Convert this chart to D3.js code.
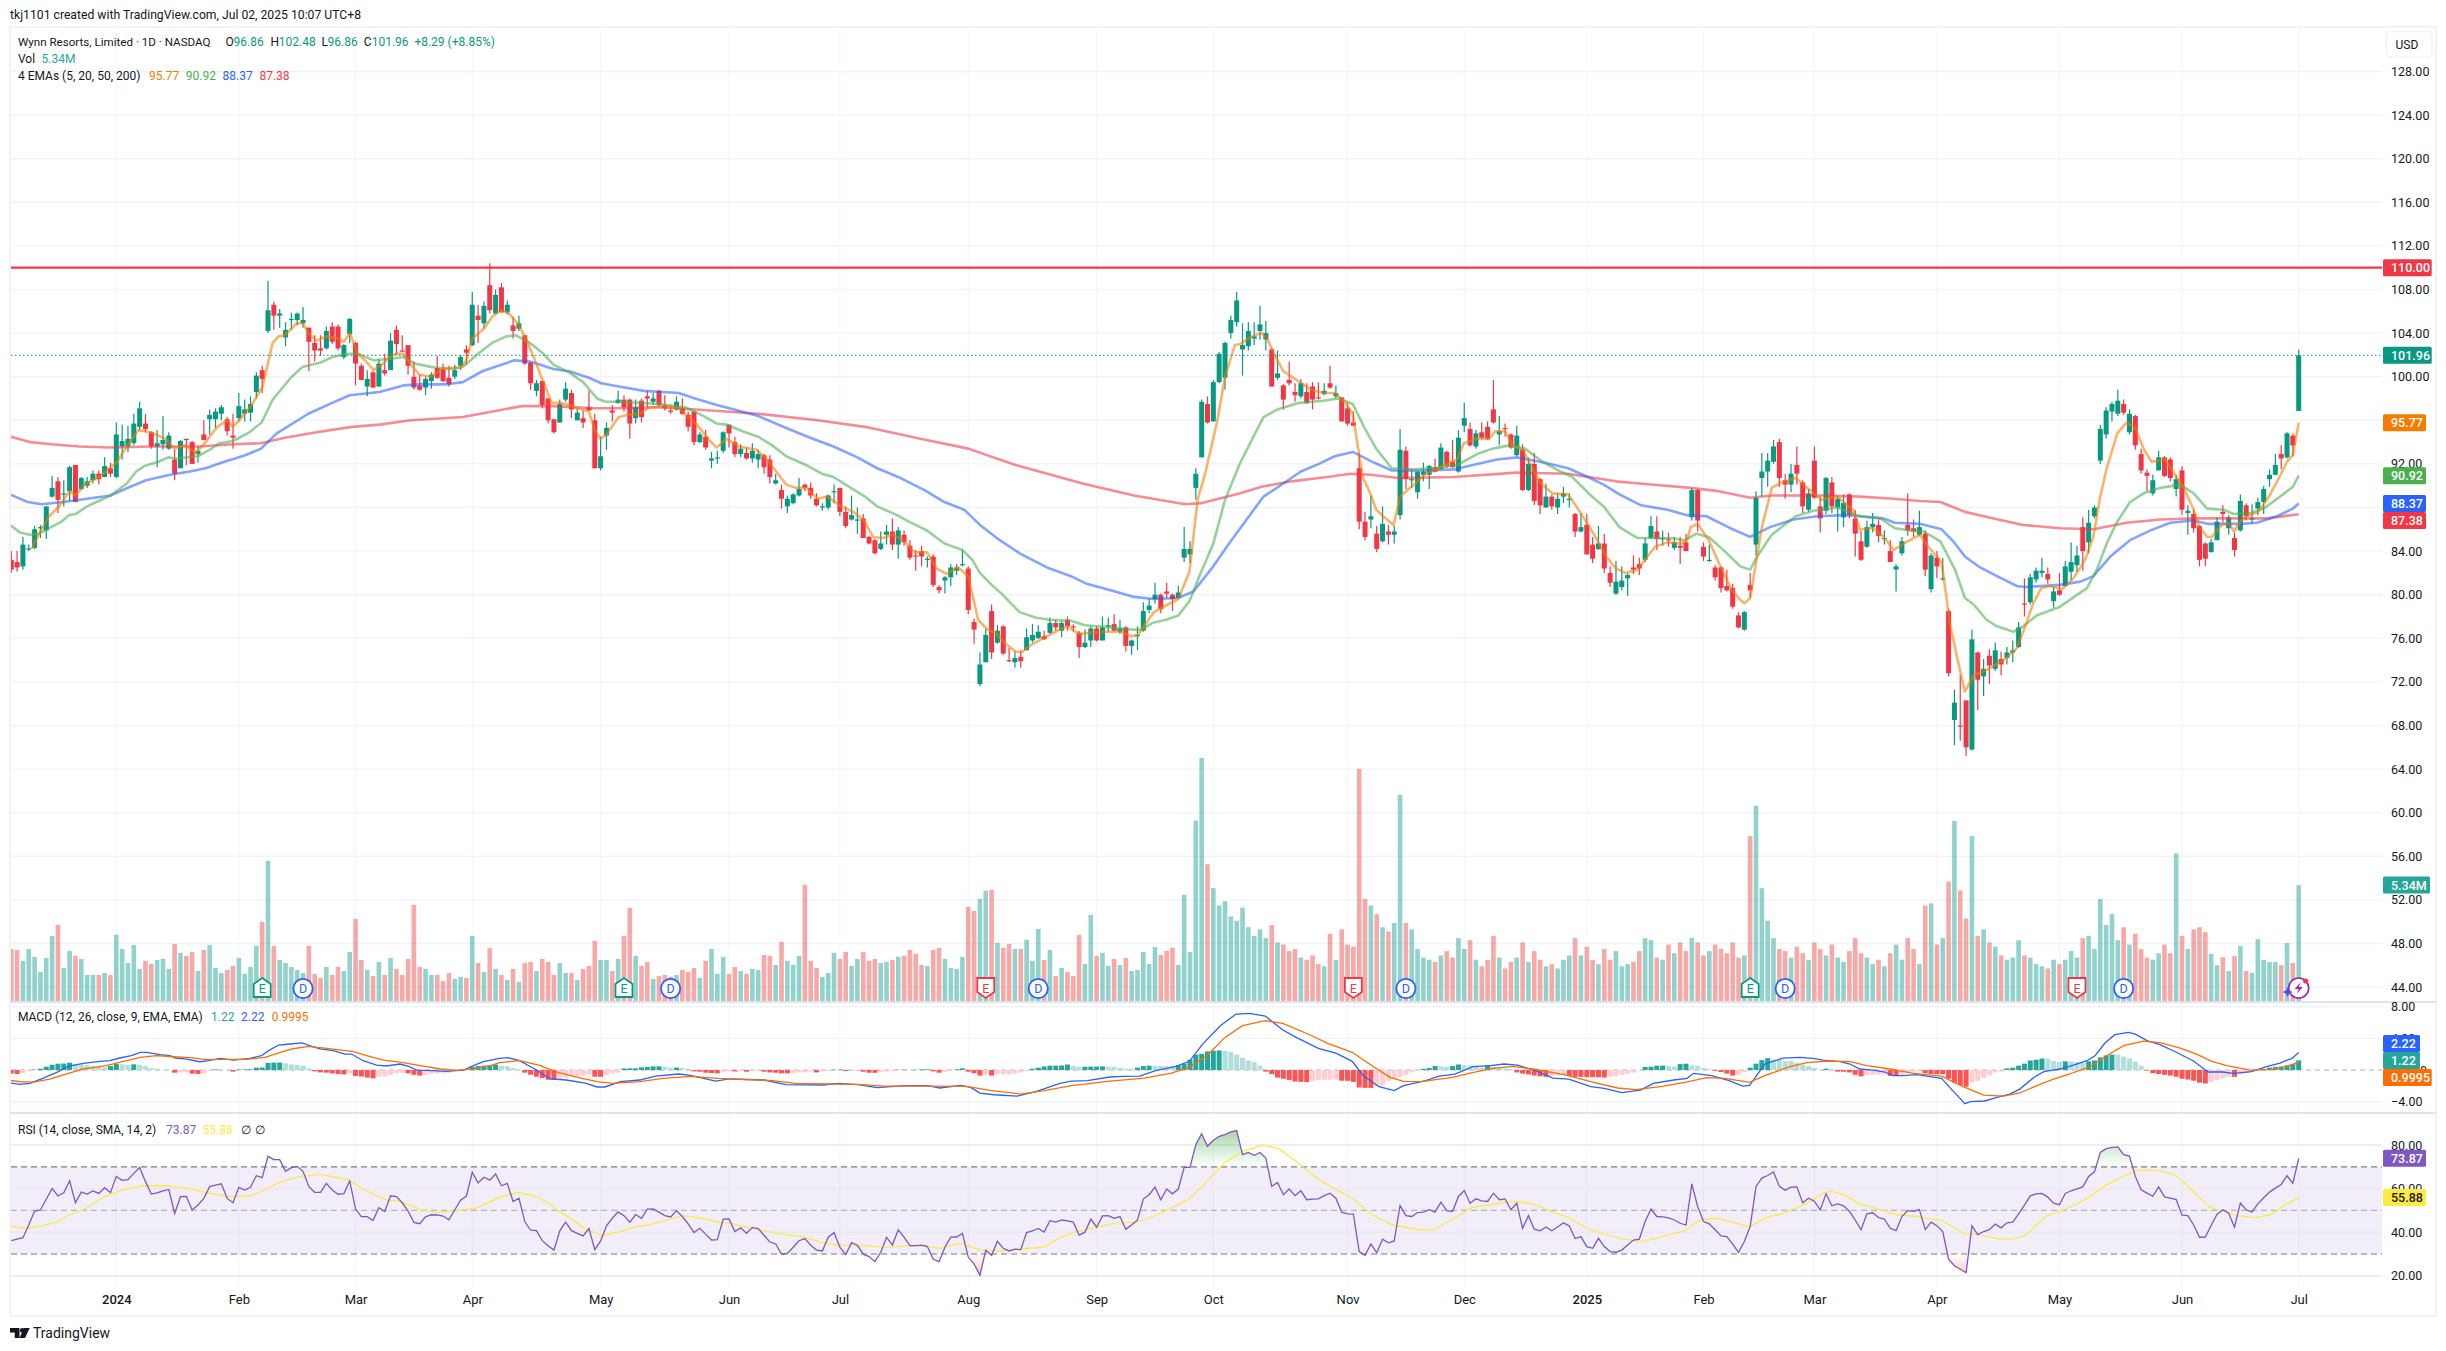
<!DOCTYPE html>
<html>
<head>
<meta charset="utf-8">
<script src="https://cdn.jsdelivr.net/npm/d3@7"></script>
<style>
  html, body { margin: 0; padding: 0; background: #fff; }
  svg { display: block; }
  text { font-family: Roboto, "Noto Sans", sans-serif; fill: #131722; }
  .tick text { font-size: 12.5px; font-family: Roboto, "Noto Sans", sans-serif; }
</style>
</head>
<body>
<div id="chart"></div>
<script>
// bar 0 is Jan 2 2024, the chart opens 18 sessions earlier
const firstBar = -18;

const opens = [
  83.2,83,82.6,84.2,84.3,86.1,85.9,89,90.4,89.2,
  89.5,91.9,89.7,90,90.5,91.1,90.8,91.6,90.8,93.6,
  93.6,93.9,95.4,95.7,94.9,93.6,93.8,93.4,92.4,91.6,
  94.3,94,92.9,94.7,96.1,96.1,96.6,96.1,94.6,96.2,
  96.6,96.7,98.6,100.6,104.2,106.6,105.6,103.6,105.2,105.2,
  104.9,104.5,103.1,102.6,102.6,104.6,104.6,101.8,103.9,103.1,
  101,99.1,100.4,99.1,100.6,100.6,104.3,102.4,102.9,100,
  99.2,99,99.6,100.8,100.7,99.9,100,101,102.5,102.9,
  105.6,104.9,108.4,105.8,108.2,105.9,104.7,104.4,103.8,101.3,
  98.7,99.6,98,96.1,95.8,97.9,98.5,96,96.2,97.2,
  96,91.6,94.6,96.9,97.6,97.9,97.9,96.2,97.8,98.2,
  97.7,98.7,97.4,96.9,97,97.1,96.5,96.8,94,94.5,
  92.3,92.5,93.2,95.6,94,92.9,93,92.5,92.4,92.8,
  92.4,90.2,89.6,88.1,88.4,89.1,90.1,89.8,88.8,88,
  88,89.4,89.8,87.6,86.9,86.8,87,85.3,85,84.2,
  85.5,85.8,84.6,85.5,84.5,83.6,84,83.2,83.5,80.7,
  81.3,81.6,82.2,82.7,82.4,77.5,71.8,73.8,78.5,75.6,
  77.1,74,73.8,74.3,74.9,75.8,76,76.2,76.5,77.4,
  76.7,77.7,77.1,76.5,75.2,75.8,76.9,75.8,77.1,77.3,
  76.6,77,75.3,76.2,76.7,78.6,79.6,80,80.3,80,
  79.7,83.4,83.7,89.8,92.6,97.5,95.9,99.5,99.9,104,
  105,102.5,102.8,103.5,104.2,103.4,102.5,99.9,99.2,99.7,
  98.6,98.2,98.6,99.1,98.1,98.4,99.4,98.2,98.1,97.1,
  95.8,91.6,86.7,86.9,85.6,84.9,85.8,85.5,87.3,93.2,
  90.5,89.4,91,91,91.7,91.5,93.1,92.2,91.3,95.5,
  95.2,93.6,94.9,95.4,97,94.7,95.3,94.7,92.8,93.3,
  89.6,92,90.6,88,89,88,89,88.7,87.4,85.8,
  86.4,84.6,84.2,84.7,82,80.1,80.7,81.5,82.5,82.8,
  83.2,85.2,85.8,85.1,85.1,84.3,84.5,84.8,87.1,89.6,
  84.4,83.1,82.5,82.5,80.8,80.6,78.1,76.8,80.9,84.6,
  90.7,91.3,92.2,94,90.5,90.1,91.9,90.3,87.8,92.3,
  88.1,87.7,90.3,88,87.1,89.2,87,84.9,84.4,86.2,
  86.4,85.1,84,82.3,83.8,86.4,86.1,85.5,85.6,80.5,
  83.4,81.4,78.5,68.5,68,70.3,65.8,74.7,72.5,74.4,
  73.2,74.1,74.2,74.7,75.2,79.2,79.3,81.4,82,81.9,
  79.4,80.4,80.8,82.1,82.7,86.2,84.8,87.2,92.3,94.7,
  96.8,96.6,97.5,94.9,96.4,92.9,91.2,89.3,91.4,92.6,
  92.4,89.7,91.4,87.5,87.4,86.3,84.7,83.9,85,87.6,
  86.1,85.2,85.9,88.2,86.9,87.9,88.5,90.6,91,92.9,
  92.6,94.6,96.86
];
const highs = [
  84,84,85.3,84.6,86.3,86.4,88.1,90.9,90.8,90.5,
  91.8,91.9,90.8,90.8,91.4,91.4,92.6,92.1,95.8,95.6,
  95.5,96.6,97.7,96.6,95,95.1,96.4,94.9,93.3,94.2,
  94.3,94.1,93.6,96,97,97.1,97.4,96.3,96.6,98.5,
  97.9,98.2,100.4,101,108.8,106.9,106.2,105,105.9,105.9,
  106.4,104.5,103.8,103.8,104.6,105,104.8,103,105.4,103.2,
  101.2,100.6,100.5,101.6,102.1,104,104.7,103.8,102.9,101.4,
  100.2,100,100.4,101.9,101.2,101,101.1,102,102.9,107.8,
  106.6,106.9,110.4,108,108.6,107,105.5,105.6,103.8,101.3,
  99.7,99.6,98,96.1,97.9,99.5,98.8,97.1,96.9,98.7,
  96.6,94.5,95.8,97.4,98.7,98.3,98,97.9,98,98.7,
  98.5,98.8,98.3,97.4,98.2,98,96.8,96.8,94.9,95.1,
  93.1,93.2,95,95.6,94.5,93.8,93.5,93.9,93.3,92.9,
  92.8,91.1,90.1,89.1,89.3,90.7,90.2,90.3,89.3,88.4,
  89.2,90.1,89.8,88.1,89.1,88,87.4,85.4,85.1,85.8,
  86.4,87,86.2,85.9,85,84.1,84.5,83.5,83.7,80.9,
  81.7,82.8,82.8,84.1,82.6,77.8,74.7,76.9,79.1,77.2,
  77.2,75.1,74.8,74.9,76.9,77.3,77.2,76.7,77.9,77.7,
  77.6,78,77.3,76.7,76.8,77.1,77.1,78,77.9,78.2,
  77.7,77.1,75.9,77.1,79.3,79.6,81.1,80.1,81.1,80.1,
  80.8,86.2,84.9,91.6,97.9,98.2,99.7,102.3,103.2,105.6,
  107.8,104.9,105,105,106.5,105.1,102.6,102.4,99.3,101.4,
  99.4,99.8,99.4,99.5,99.5,99.4,101,99.2,98.1,97.6,
  96.8,93,87.6,89.1,86.3,88.1,86.4,86.3,95.2,93.6,
  91.5,91.3,92.1,91.9,92.5,93.9,93.2,94.2,95.1,97.6,
  95.8,95.1,95.8,95.9,99.7,96.4,95.7,94.8,95.5,93.8,
  92.6,93,90.7,90.2,89.2,89.3,89.9,89.3,87.5,87.5,
  87.4,85.3,86.3,85.6,82.6,83.1,82.6,82,83.6,83.4,
  85.2,87.2,87.2,85.9,85.7,85.3,85.3,85.6,89.8,89.7,
  84.8,84.6,82.7,82.6,82.3,81,78.4,78.5,82,89.5,
  93,93,94.2,94.3,91.1,92,93.6,90.5,89.7,93.6,
  89,90.8,90.8,89,89.2,89.3,87.8,85.9,86.8,87.5,
  86.9,85.9,85,82.8,85.3,89.3,86.9,87.7,85.9,83.8,
  84,83.4,78.7,71.3,72.6,70.3,76.8,74.8,74.1,75,
  75.6,74.8,75.2,75.8,77.5,81.5,81.9,82.5,83.4,82.5,
  80.7,82,83.1,84.8,84.5,87.1,87.8,88.2,95.6,97.2,
  97.7,98.8,97.9,97,96.5,93.4,91.5,91,93.2,92.7,
  92.6,91,91.8,88.2,87.8,86.4,84.8,85.1,87.1,88.2,
  87.3,85.7,89.2,88.4,88.3,88.9,90,91.5,92.9,93.7,
  94.9,94.8,102.48
];
const lows = [
  82,82.1,82.3,84,84.2,85.2,85.1,88.9,87.5,88.1,
  88.6,88.5,89.6,89.8,90.2,90.1,90.8,90.8,90.7,92.4,
  93.1,93.7,95.1,94.9,93.4,91.7,93.3,93.3,90.5,91.6,
  91.9,92,92.1,94.2,94.7,95.3,96,94.6,93.4,95.9,
  95.9,95.9,98,98.5,104,104.3,104.5,102.8,104.3,104.7,
  104.5,100.5,101.4,101.9,102.5,103,102.4,101.6,103.1,99.2,
  99.7,98.2,99,99.1,100.1,100.6,102,102.3,100.2,98.8,
  98.7,98.3,98.9,99.8,99.5,99.1,99.8,100.6,101.1,102.8,
  103.1,104.4,105.8,105.7,105.9,105.7,103.5,104.2,101.1,98.8,
  98.2,97.1,95.7,94.8,95.8,97.7,96.2,96,95.3,96.9,
  91.6,91.4,93.3,95.9,97.5,96.8,94.3,95.7,95.8,97.2,
  97.4,97.3,96.9,96.6,96.9,96.5,95,93.7,93.9,93.3,
  91.6,92,93,93.5,92.6,92.6,92.4,92.1,91.6,91.1,
  90.2,90.1,87.9,87.5,88.3,89,89.5,88.8,88.1,87.7,
  87.8,88.4,87.2,86.1,86.8,85.6,85.2,84.6,83.7,84.1,
  84.6,84.1,83.3,84.5,83.2,82.2,82.6,82.5,80.7,80.1,
  80.1,80.8,81.8,82.6,78.2,75.5,71.6,73.8,74.1,75.5,
  74.5,73.8,73.3,73.3,74.9,75.6,76,75.9,76.4,76.7,
  76.1,76.7,76.6,74.2,75.1,75.2,75.7,75.8,76.6,76.6,
  76.4,74.8,74.5,74.9,76.6,78.3,79.2,78.3,79.7,78.5,
  79.6,83,82.9,88.7,92.6,95.7,95.9,99.4,98.8,103.5,
  104.6,100.1,102.4,102.9,103.4,102.4,99.1,99.7,97,99.2,
  97.7,98,97.5,97,97.9,98.3,98.9,98,95.9,95.5,
  95.5,86,85,86.1,83.9,84.8,84.6,84.7,86.9,89.7,
  89.8,88.8,90.4,89.7,91.2,91.5,91.6,91.6,91.2,94.9,
  93.6,93.4,94.3,94.2,95.7,93.7,94.5,93.4,92.7,89.5,
  89.5,88.2,87.4,88,87.8,87.4,88.4,88,85.3,85.7,
  83.7,82.9,84.1,82,80.7,80,80.4,79.9,81.9,81.8,
  83,85.1,84.1,84.5,84.4,84.1,82.8,84,86.8,85.8,
  83.1,83,81.3,80.2,80.3,78.7,76.9,76.7,79.7,83.6,
  89,89.9,92,89.9,88.8,89.4,90.1,87.5,87.6,88.8,
  85.7,87.4,87.5,85.8,86.2,87,83.5,83.1,84.3,85.7,
  84.8,84.6,83,80.3,83.6,85.4,85.3,85.4,81.7,80.2,
  81.5,81.3,72.5,66.2,66.6,65.2,65.7,69.4,70.7,71.8,
  73,72.6,73.6,73.8,75.1,78,79.1,81.1,81.6,81,
  78.8,79.9,80.7,81.3,82.1,82.2,83.8,87,92,94.3,
  95.9,96.4,96.5,94.7,93.3,91.1,89.5,89.1,91.4,90.8,
  90.4,89,87.3,85.5,85.7,82.6,82.6,83.9,85,86.6,
  85.5,83.5,85.8,86.8,86.5,87.3,87.4,89.9,91,91.5,
  92.5,92.7,96.86
];
const closes = [
  82.3,82.5,84.6,84.25,86,86.2,88.1,89.8,88.7,89.3,
  91.7,88.5,90.7,90.4,91.1,90.6,91.8,91.1,94.7,94.1,
  94.3,95.7,97.1,95.2,93.6,93.9,94.2,94.6,91.1,94.1,
  94.2,92,93.2,94.2,96.5,96.8,97.2,95,94.4,97.3,
  97,97.5,100.1,99.8,106.1,105.6,105.8,104.3,105.3,105.8,
  105.2,103.2,102.4,102.4,104.2,103.2,102.6,102.9,105.3,101.2,
  99.7,99.8,99,101.2,100.3,103.3,103,102.3,101,99,
  98.8,99.8,100.2,99.9,99.6,99.3,100.6,101.8,102.2,106.6,
  105.2,106.5,106.1,107.5,105.9,106.6,104.2,104.9,101.2,99.4,
  99.4,97.4,96,94.9,97.5,98.9,97,96.7,95.8,96.9,
  91.6,92.7,95.3,96.7,97.9,97.2,95.7,97.2,96.3,98,
  98,97.4,97.1,96.8,97.7,96.6,95.4,94,94.7,93.5,
  92.5,92.6,94.9,94.8,92.9,93.4,92.5,93.2,92.9,91.7,
  90.8,90.5,88.8,88.8,89.2,89.7,89.8,89.1,88.2,88.1,
  89.1,89.5,87.6,86.3,87.3,86.9,85.2,84.7,83.8,84.7,
  85.8,84.6,85.9,84.8,83.4,83.5,83.5,83.3,80.9,80.4,
  81.6,82.5,82.5,82.8,78.6,76.8,73.6,76.3,74.7,76.7,
  74.6,73.9,74.2,73.9,76.1,76.3,76.6,75.9,77.4,77,
  77.4,77.1,77,75.2,75.6,76.9,75.8,77,77.2,76.7,
  76.9,75.3,75.8,76.3,78.5,79,80,78.7,80.1,79.6,
  80.2,84.2,84.2,91.1,97.7,95.8,99.5,102.1,103.1,105.2,
  107,102.9,104.2,103.7,104.8,104,99.1,100.3,97.9,99.4,
  98.3,99.4,97.6,97.9,98,98.7,99,98.5,95.9,95.7,
  95.5,86.7,85.3,87.2,84.2,86.5,85.5,85.8,93.3,90.6,
  90.6,91.3,91.3,91.8,91.3,93.5,91.8,91.7,94.4,96.2,
  93.7,94.8,94.4,94.3,95.8,95,95.2,93.5,94.6,89.6,
  92,88.6,88.2,89,88.1,88.8,89.3,88.8,85.8,86.2,
  83.7,83.3,84.7,82.4,81.1,81.2,81.3,81.8,82.3,82.4,
  84.7,86.3,85.1,85.2,85,84.8,84.3,84,89.6,86.8,
  83.5,83.2,81.6,80.6,80.4,78.9,77,78.4,80.4,88.9,
  91.3,92.3,93.6,90.7,90.1,91.1,91.1,88.1,89.3,88.9,
  87,90.7,88.1,88.8,88.4,87.3,85.6,83.2,86.2,86.5,
  85.4,85.2,83,82.6,84.9,85.9,85.8,86.2,82.3,83.6,
  82.6,81.5,72.8,70.1,67.9,66,75.9,72.2,73.2,73.5,
  74.9,73.6,74.7,74.9,77,79.1,81.6,82.2,82.2,81.4,
  80.3,80,82.6,83,83.6,84,86.6,88,95.2,96.9,
  97.5,97.8,96.7,96.6,93.7,91.4,90.9,90.5,92.6,90.9,
  90.7,90.6,87.8,87.7,86.1,83.2,83.3,84.8,86.7,87.4,
  87.1,84.1,88.6,87.2,87,88.5,89.7,91,91.9,92.5,
  94.8,93.7,101.96
];
// volume in millions
const volumes = [
  2.4,2.35,1.85,2.4,2.03,1.34,1.98,3,3.51,1.52,
  2.31,2.08,1.94,1.2,1.2,1.2,1.29,1.2,3.05,2.4,
  1.75,2.58,1.48,1.85,1.71,1.89,1.94,1.48,2.63,2.22,
  2.08,2.26,1.38,2.35,2.58,1.52,1.29,1.43,1.62,1.98,
  1.25,1.57,2.54,3.65,6.46,2.54,1.89,1.75,1.57,1.43,
  1.29,2.54,1.25,1.06,1.57,1.2,1.57,1.38,2.26,3.78,
  1.89,1.43,1.15,1.8,1.2,1.98,1.48,1.2,1.94,4.43,
  1.57,1.48,1.2,1.2,.92,1.29,1.02,1.11,1.06,3,
  1.75,1.34,2.45,1.48,1.2,.97,1.48,.88,1.75,1.8,
  1.38,1.94,1.8,1.2,1.75,1.29,1.29,.97,1.48,1.62,
  2.77,1.89,1.89,1.38,1.94,3,4.29,2.08,1.62,1.8,
  1.02,1.15,1.2,1.12,1.2,1.43,1.34,1.52,1.06,1.85,
  2.4,1.25,2.03,1.25,1.57,1.38,1.25,1.48,1.43,2.12,
  2.08,1.66,2.72,1.85,1.66,2.08,5.35,1.85,1.52,1.11,
  1.29,2.22,1.94,2.26,1.62,1.94,2.26,1.85,1.94,1.75,
  1.8,1.89,2.03,2.08,2.35,2.17,1.66,1.62,2.35,2.45,
  1.94,1.52,1.48,2.03,4.34,4.15,4.71,5.08,5.12,2.68,
  2.45,2.63,2.4,2.4,2.82,1.85,3.32,1.89,2.35,1.15,
  1.52,1.34,1.15,3.05,1.71,3.97,2.08,2.22,1.62,1.94,
  1.66,1.98,1.38,1.43,2.26,1.71,2.49,2.12,2.31,2.45,
  1.66,4.89,2.26,8.31,11.2,6.3,5.2,4.4,4.6,3.9,
  3.7,4.3,3.4,3,3.3,2.9,3.5,2.7,2.6,2.3,
  2.4,2,1.9,2.1,1.7,1.6,3.1,1.9,3.3,2.6,
  2.5,10.7,4.7,4.4,4,3.4,3.2,3.6,9.5,3.6,
  3.3,2.4,2,1.9,1.8,2.1,2.3,2,2.9,2.4,
  2.8,1.9,1.6,1.9,3,2,1.5,1.8,2,2.7,
  1.8,2.3,1.9,1.6,1.7,1.5,1.9,2.1,2.9,2.1,
  2.5,1.9,1.7,2.4,1.9,2.3,1.6,1.7,1.8,2.3,
  2.9,2.8,2,1.9,2.6,2.2,2.7,2.3,2.9,2.7,
  2.1,2.3,2.6,2.4,2.2,2.7,2,2.1,7.6,9,
  5.2,3.7,2.9,2.4,2.3,2,2.5,2.2,1.9,2.7,
  2.4,2.1,2.6,2,1.8,2.3,2.9,2.2,2,1.7,
  1.9,1.6,2.2,2.6,1.9,2.9,2.4,1.7,4.4,4.5,
  2.6,2.9,5.5,8.3,5.1,3.8,7.6,3,3.3,2.7,
  2.5,2.1,1.9,2,2.8,2.1,2,1.7,1.6,1.5,
  1.9,1.7,1.9,2.3,2,2.9,3,2.4,4.7,3.5,
  4,2.8,3.4,2.6,3.1,2.4,2,1.9,2.2,2.6,
  2.2,6.8,3,2.4,3.3,3.4,3.17,2.17,1.65,2.02,
  1.38,2.07,2.54,1.38,1.3,2.85,1.9,1.8,1.8,1.65,
  2.67,1.75,5.34
];
const macdHist = [
  -.45,-.5,-.4,-.15,.05,.17,.42,.67,.8,.82,
  .93,.76,.72,.63,.5,.42,.34,.5,.76,.72,
  .67,.72,.67,.5,.25,.17,.03,.02,-.33,-.3,
  -.28,-.46,-.5,-.42,-.12,.08,.05,.03,-.2,.05,
  .08,.09,.3,.32,.9,.93,.95,.85,.7,.67,
  .55,.2,-.17,-.3,-.33,-.42,-.5,-.55,-.4,-.75,
  -.83,-.95,-1.05,-.85,-.8,-.6,-.4,-.35,-.42,-.6,
  -.7,-.65,-.5,-.42,-.4,-.35,-.1,.02,.1,.4,
  .5,.55,.6,.7,.55,.5,.25,.08,-.33,-.59,
  -.84,-1,-1.22,-1.26,-1.13,-.97,-.8,-.76,-.74,-.59,
  -.84,-.86,-.63,-.46,-.34,.2,.21,.22,.34,.38,
  .46,.47,.42,.3,.31,.25,.13,-.17,-.21,-.34,
  -.38,-.42,-.3,-.17,-.18,-.13,-.21,-.13,-.12,-.21,
  -.3,-.34,-.42,-.43,-.38,-.3,-.29,-.17,-.3,-.17,
  -.13,.04,.05,-.13,-.12,-.11,-.21,-.34,-.35,-.25,
  -.21,-.13,.04,.05,.01,.03,.08,.09,-.17,-.34,
  -.25,-.13,.08,.21,-.21,-.4,-.7,-.63,-.7,-.55,
  -.54,-.53,-.42,-.3,-.13,.17,.3,.46,.55,.56,
  .57,.7,.5,.4,.42,.43,.44,.45,.43,.41,
  .25,.17,.16,.3,.5,.55,.53,.52,.5,.42,
  .6,.8,1.3,1.95,2.05,2.35,2.45,2.47,2.4,2.3,
  1.95,1.55,1.2,1,.55,-.2,-.5,-.95,-1.1,-1.25,
  -1.45,-1.5,-1.52,-1.4,-1.25,-1.24,-1.23,-1.2,-1.35,-1.36,
  -1.5,-2.2,-2.25,-2.26,-2.05,-1.9,-1.35,-1.1,-.85,-.6,
  -.3,-.1,.15,.25,.5,.45,.43,.5,.7,.6,
  .58,.4,.3,.6,.4,.35,.2,.15,-.3,-.45,
  -.55,-.7,-.8,-.85,-.75,-.7,-.55,-.75,-.85,-.86,
  -.9,-.91,-.92,-.95,-.85,-.8,-.6,-.5,-.3,-.05,
  .4,.42,.55,.56,.5,.45,.75,.8,.6,.5,
  .25,.1,-.1,-.25,-.45,-.7,-.65,-.3,.3,.8,
  1.25,1.5,1.35,1.3,1.15,1.14,.93,.7,.5,.25,
  .04,.17,.01,-.2,-.21,-.3,-.6,-.8,-.65,-.6,
  -.58,-.57,-.75,-.76,-.6,-.3,-.2,-.15,-.4,-.5,
  -.51,-.52,-1.1,-1.6,-1.9,-2.1,-1.55,-1.35,-1,-.7,
  -.3,-.2,.2,.3,.55,.8,1.2,1.3,1.45,1.44,
  1.15,1.05,1.1,1.09,1,.9,1.1,1.2,1.6,1.85,
  1.95,1.94,1.7,1.45,1.05,.55,-.05,-.4,-.5,-.6,
  -.7,-.85,-1.1,-1.2,-1.35,-1.6,-1.7,-1.55,-1.3,-1.05,
  -.85,-.86,-.55,-.4,-.25,-.05,.1,.3,.4,.45,
  .6,.75,1.22
];
const rsiValues = [
  36.1,36.8,37.5,43.3,49.7,50.2,55.1,60.1,56.6,58.1,
  63.6,53.5,58.4,57.5,58.9,57.8,60.4,58.1,65.6,63.8,
  64.1,67,69.7,63.2,57.5,58,59,59.6,48.6,56.3,
  56.4,50.2,52.5,55.5,60.9,61.6,62.2,55.5,53.5,60.6,
  59.3,60.6,65.9,65,74.8,73.3,73.3,67.9,69.6,70.2,
  67.9,60.9,58.3,58.3,62.4,59.3,57.4,57.7,63.5,50.6,
  47.1,47.1,45.4,51.2,49.5,56.7,56.3,53.5,49.7,44.5,
  43.9,47.1,48,47.9,47.4,45.7,50.2,54.7,56.6,67.5,
  62.6,65.2,63.9,66.7,61.3,62.4,54.1,55.6,44.9,40.9,
  40.7,36.1,33.8,31.8,40.6,44.6,40.7,39.5,38.3,41.7,
  32,36,42.9,46.4,49.3,47.6,44.6,48.1,46.4,50.6,
  50.7,49.2,47.6,47,49.9,47.2,43.8,39.8,41.8,39.1,
  36.4,36.6,46,46.1,40.3,42,39.5,42.1,41.7,38.6,
  35.5,34.6,30,30.3,33.1,36.1,37.1,34,31.8,31.4,
  37.7,39.8,33.1,29.7,35.2,34,29.9,28.8,26.5,30.8,
  37.7,34.1,41.1,37.7,33.8,33.8,34.1,33.4,27.6,26.5,
  33.1,37.7,37.8,39.5,28.6,25.4,20.2,31.7,29.4,35.8,
  32.6,31.4,32.2,32,39.8,40.6,41.7,40.1,45.3,44.6,
  45.6,45.2,44.6,38.7,40,46,42.3,47.5,47.6,46.4,
  47.2,41.4,43.3,45.6,55.2,57.2,60.7,54.9,59.8,57.6,
  59.8,69.7,69.7,80.2,85.2,79.4,82.2,84,84.8,86,
  86.6,75.6,76.6,75.3,76.6,74,61,62.8,57.2,59.8,
  56.8,59,54.9,55.2,55.3,56.8,57.9,55.6,49.2,48.4,
  48.3,31.1,29.4,34.6,30.6,36.8,35.1,36,52.2,47.6,
  47.2,49,49.2,50.3,49.2,53.8,49.9,49.5,56.4,59.1,
  53.3,55.3,54.4,54.1,57.9,54.9,55.3,50.3,53.3,41.7,
  47.6,41.4,40.6,42.4,40.7,42.4,44.3,42.9,37.1,38,
  33.4,32.6,37.2,33.4,31.1,30.8,31.8,34.1,36.4,36.8,
  44.9,50.6,47.2,47,46.6,45.6,44.1,43.3,62.2,51.8,
  44.9,43.8,41.1,38.3,38,34.5,30.8,35.7,42.6,61,
  64.8,66,67.6,61,59.3,60.7,60.8,53.5,55.6,54.2,
  50.3,57.6,52.1,53,52.1,49.6,45.6,41.1,48.4,48.9,
  46.7,46,41.8,40.7,47.2,49.9,49.6,50.4,41.2,44.6,
  43,40.3,27.6,24.6,23,21.4,42.9,38.9,40.3,41.2,
  43.7,42,44.3,44.6,48.4,52.4,56.7,57.6,57.8,56.1,
  53.3,52.6,57.8,59,59.9,60.8,65.6,67.7,76.6,78.3,
  78.9,79.1,75.6,74.9,65.6,59.5,57.9,56.5,60.8,56.2,
  55.6,55,47.8,47.6,43.3,37.7,37.8,43.2,48.1,50.3,
  48.7,42.3,53.3,50.3,49.3,53,55.8,58.4,60.2,61.9,
  65.9,62.4,73.87
];

const ema5 = [[-14.5,84.2],[-13.2,85.6],[-11.5,87.2],[-9.8,88.1],[-8,89.5],[-7,89.1],[-5.4,90.1],[-3,90.8],[0,92.1],[1.8,93.6],[3.8,95.1],[5.8,94.9],[8.5,94.3],[9.9,93.4],[11.9,93.7],[13.6,93],[15.3,94],[17.3,95.4],[19,96],[20,95.4],[21.4,96.2],[23.4,97.6],[25.1,99.1],[26.1,101.5],[26.8,103.1],[27.8,103.7],[28.9,103.8],[30.9,104.9],[32,104.9],[32.9,104],[34.3,103.3],[36,103.7],[38,103.5],[39,103.2],[40,104],[41.4,102.1],[42.8,101.4],[44.1,100.6],[45.5,101.1],[46.8,101.8],[47.8,102.1],[49.2,102.1],[50.5,101.1],[51.9,100.2],[53.9,100],[56,100.8],[59,100.8],[60,101.5],[61,103.5],[63,104.4],[64.4,105.5],[65.8,106.1],[67.1,105.9],[68.8,104.9],[70.2,103.5],[71.6,101.7],[72.9,99.9],[74.6,97.6],[76,97.6],[77.6,97.4],[79,97.1],[81,96.8],[82,95.1],[83,94.3],[84,94.7],[86.1,96.3],[87.7,96.5],[89.7,96.6],[91.4,97.2],[93.8,97.3],[96.5,97.1],[98.2,96.2],[99.5,95.6],[101.6,94.2],[102.9,93.5],[104.6,94.3],[106.7,93.6],[109.7,93.3],[111.4,92.5],[113.1,91.3],[114.8,90.1],[116.5,89.8],[118.2,89.8],[120.2,88.8],[121.9,89],[123.9,88.2],[126.3,87.6],[128,86.9],[129.7,85.3],[131.4,85.2],[133.1,85.5],[134.8,85],[136.8,83.9],[138.9,83.9],[140.6,82.4],[142.3,81.9],[144.3,82.5],[146,81.7],[147.7,77.7],[149.3,76.8],[150.7,76.5],[152.4,75.5],[154.1,74.8],[155.1,74.7],[156.8,75.4],[159.2,76.1],[160.9,76.6],[162.9,77.1],[165,76.4],[167,76.5],[169.7,76.6],[172.1,76.6],[173.8,76.2],[175.1,76.3],[176.5,77.4],[177.8,78.4],[180.2,79.1],[182,79.6],[183.9,82.1],[185.3,88.7],[186.6,91.1],[188.7,96],[190,100],[191.7,102.9],[192.6,103],[194.6,103.7],[196.3,104],[197.3,103.4],[198.7,101.8],[200,100.5],[201.4,100],[202.8,99.5],[204.8,98.8],[206.8,98.5],[208.8,98.5],[210.5,97.7],[211.9,96.6],[212.5,94.5],[213.6,90.8],[214.9,89.3],[215.9,87.8],[217.3,87.1],[218.9,86.4],[220,89],[222.4,90.1],[224.4,91.1],[225.8,91.4],[228.5,92.1],[229.8,92.4],[230.9,93.9],[233.2,94.3],[235.3,94.3],[236.3,95],[238,95],[239.3,93.7],[241,93.3],[242.4,91.9],[244.1,90.2],[246.1,89.3],[248.8,89.2],[250.2,88.1],[251.9,86.7],[253.6,85.2],[255.3,83.5],[257,82.4],[258.6,82],[260.7,82.3],[262.4,83.5],[263.7,84.4],[265.8,84.8],[268.1,84.7],[269.2,85],[269.8,86.2],[271,86.5],[272.9,85],[274.9,82.6],[276.6,80.7],[278,79.7],[279,79.2],[280,79.7],[280.8,82.3],[282,86.2],[283.7,89.8],[285,90.2],[287.8,90.7],[290.2,89.6],[292.2,88.7],[294.9,89],[297.6,87.8],[298.8,86],[301.1,86.1],[302.9,85.3],[304.6,84.1],[306,84.6],[307.4,85],[309.1,85.5],[310.5,84.4],[312.8,83],[314.3,77.1],[315.7,73.7],[316.8,71.1],[318.3,72.6],[320.5,73.1],[323.4,74],[325.7,75.1],[326.8,76.6],[328.5,79.2],[329.9,80.6],[331.4,80.8],[333.4,80.5],[335.4,81.5],[337.4,83.2],[338.8,85.3],[340,89],[341.1,91.6],[342.9,94.8],[344.5,95.8],[346,95.3],[347.4,93.4],[348.8,92.2],[351.1,92.4],[352.8,91],[354.3,89.8],[356,87.8],[356.9,86.3],[358.3,85.3],[359.1,85.3],[360.8,86.4],[362,86.6],[362.9,85.8],[364,86.7],[365.1,87.2],[367.1,87.6],[368.9,89],[370.9,91],[372,92.2],[373,92.8],[374,95.77]];
const ema20 = [[-18.2,86.4],[-16.5,85.7],[-14.8,85.5],[-13.2,85.6],[-11.5,86.1],[-9.4,86.7],[-8.1,87.3],[-7,87.4],[-5,88.1],[-1,89.1],[1.8,90.2],[3.4,91.3],[4.8,91.8],[7.2,92.2],[8.9,92.6],[10.2,92.5],[14,92.7],[16,93.3],[17.7,93.9],[20,94.1],[22.8,94.9],[24.9,95.8],[26.8,97.9],[28.2,98.8],[29.9,99.9],[31.9,100.9],[35,101.3],[37,101.8],[39.7,102.1],[41.4,102.1],[44.1,101.5],[47.8,101.7],[49.2,101.8],[51.2,101.2],[53.9,100.9],[57,100.7],[59.4,100.9],[62,102.1],[64.4,103.1],[66.8,103.7],[68.5,103.8],[70.9,103.1],[73.2,102.1],[74.9,101.1],[77.6,100.4],[80,99.5],[82.4,98],[83.8,97.7],[86.1,97.7],[93.1,97.5],[97.5,97.2],[100.6,96.4],[102.9,95.7],[104.6,95.6],[107.3,95],[110,94.5],[112.4,93.7],[114.8,92.7],[118.2,91.9],[120.9,91.1],[122.9,90.8],[125.6,89.9],[128.3,89],[130.4,88.1],[133.8,87.3],[135.8,86.7],[138.9,85.9],[141.9,84.7],[145,84.1],[146.7,83.2],[148,82],[150,80.9],[151.7,80.1],[154.8,78.4],[157.5,77.9],[159.9,77.7],[163.6,77.6],[166,77.2],[170.4,77],[173.8,76.8],[175.8,76.8],[177.5,77.4],[179.9,77.7],[182,78.1],[183.9,79.4],[185.6,81.7],[188,84.7],[190,88.7],[192.6,92.1],[194.6,94.2],[196.6,96.3],[199,97],[202.7,97.6],[206.8,97.8],[209.5,98],[211.9,97.5],[213.9,95.3],[215.9,93.4],[218.6,91.6],[222.4,91.5],[225.8,91.6],[229.8,91.9],[233.2,92.9],[235.9,93.4],[238.7,93.7],[241.4,93.4],[244.4,92.2],[247.5,91.3],[249.5,90.8],[252.5,89.2],[254.9,88.1],[257.6,86.2],[260.7,85.2],[266.4,85.2],[268.8,85],[270.8,85.6],[272.9,85.3],[275.6,84],[278.3,82.6],[280,82.3],[281.3,83.6],[283.7,85.5],[287.8,87.2],[290.8,87.7],[294.9,88],[298.8,87.2],[302.3,87],[304.8,86.1],[307.4,85.9],[309.7,85.8],[312.6,84.9],[315.1,82.3],[316.8,79.7],[318.3,79.1],[320.5,77.7],[322.3,77.1],[325.1,76.6],[326.8,77.1],[329.1,78.1],[333.1,78.9],[337.7,80.6],[339.4,82.3],[341.1,84.7],[342.9,86.7],[345.1,88.5],[347.4,89.3],[350.3,89.8],[353.7,90.1],[356,89.3],[358.3,87.9],[361.1,87.8],[362.9,87.4],[365.7,87.5],[368,87.9],[370.8,89],[373,89.9],[374,90.92]];
const ema50 = [[-18.2,89.2],[-15.2,88.5],[-12.8,88.3],[-9.1,88.5],[-5,88.8],[-1,89.1],[2.4,89.9],[5.1,90.5],[9.2,91],[12.6,91.3],[15.3,91.6],[18,92.1],[22.1,92.8],[24.8,93.4],[27.5,94.8],[32.9,96.6],[37,97.6],[40,98.3],[45.1,98.6],[49.2,99.2],[51.9,99.3],[56.6,99.3],[59.4,99.5],[62.7,100.5],[68.2,101.5],[70.9,101.4],[74.9,100.7],[77.6,100.5],[81,99.9],[83.1,99.4],[86.1,99.1],[90.4,98.7],[96.4,98.5],[99.2,98],[102.9,97.4],[105.9,97],[110,96.4],[114.8,95.3],[118.9,94.4],[122.9,93.6],[127,92.6],[130.4,91.6],[134.4,90.7],[138.5,89.6],[141.9,88.5],[145.3,87.8],[148,86.4],[151.4,85],[154.8,83.8],[159.5,82.5],[163.6,81.7],[166.3,81],[170.4,80.4],[174.4,79.8],[177.8,79.6],[181.9,79.7],[184.6,80.3],[188,82.6],[190.7,84.7],[192.6,86.1],[196.6,89],[200,90.2],[203,91.3],[206.1,92],[208.8,92.7],[211.9,93.1],[215.6,92.1],[218.6,91.4],[224.4,91.4],[229.4,91.5],[233.2,92],[236.6,92.4],[240,92.6],[244.8,92.1],[248.8,91.6],[252.2,90.8],[254.9,90.1],[257.6,89.2],[261.3,88.2],[265.8,87.8],[269.2,87.3],[272.5,87.2],[276.6,86.1],[280,85.3],[283.4,86.2],[287.4,86.9],[291.5,87.2],[296.2,87.3],[298.8,87.2],[302.8,87],[304.8,86.6],[309.1,86.5],[312.8,86],[314.8,84.9],[316.8,83.5],[319.4,82.5],[322.3,81.7],[325.7,80.8],[327.1,80.7],[333.1,80.9],[336.6,81.2],[338.8,81.7],[341.7,83.5],[345.1,85],[348.6,85.9],[352,86.6],[356,86.8],[358.3,86.5],[364,86.5],[366.8,86.6],[370.3,87.2],[373,87.9],[374,88.37]];
const ema200 = [[-18.2,94.5],[-14.8,94],[-11.1,93.8],[-6.4,93.6],[-1,93.5],[5.8,93.6],[14,93.6],[20,93.8],[24.8,93.9],[28.9,94.4],[34.3,94.9],[40.4,95.4],[45.1,95.6],[50.5,96],[59.4,96.3],[65.4,96.9],[69.5,97.3],[74.9,97.3],[81.7,97.1],[86.1,97.1],[93.1,97.2],[101.9,96.9],[110,96.6],[120.2,96],[128.3,95.4],[137.8,94.3],[146,93.4],[154.1,91.9],[165.6,90.2],[174.4,89.1],[183.2,88.3],[185.9,88.4],[192.6,89.3],[196.3,89.9],[201.4,90.4],[207.5,90.8],[211.5,91.1],[215,91],[219.7,90.7],[229.2,90.8],[240,91.2],[248.8,91.1],[257,90.4],[261,90.2],[269.8,89.8],[274.6,89.5],[280,88.9],[283.7,89.1],[292.2,89.1],[298.8,89],[304.6,88.8],[309.1,88.6],[312.6,88.5],[316.8,87.6],[321.7,87],[326.8,86.4],[333.1,86.1],[338.8,86],[344.5,86.6],[350.3,86.9],[356,87],[364,87],[368.6,87],[374,87.38]];
const macdLine = [[-18.2,-1.65],[-16.5,-1.82],[-14.8,-1.68],[-12.5,-1.01],[-10.2,-.29],[-8.2,.46],[-5.7,.84],[-2.8,1.09],[-1.1,1.18],[.6,1.52],[2.6,1.81],[4.1,2.23],[5.2,2.23],[7.5,1.94],[9.2,1.81],[10.1,1.52],[12.1,1.39],[14.3,1.05],[15.8,1.18],[17.8,1.47],[20.1,1.26],[22.9,1.47],[24.9,1.81],[26.1,2.45],[27.8,3.16],[29.8,3.29],[31.8,3.42],[33.5,3],[34.9,2.66],[37.2,2.44],[39.2,2.02],[40.3,2.02],[42.3,1.18],[44.6,.63],[46.3,.51],[48.6,.76],[50.1,.46],[51.5,0],[54.3,-.08],[56.6,-.17],[59.5,0],[61.2,.55],[62.9,1.05],[65.7,1.47],[67.1,1.56],[69.1,1.18],[71.7,.13],[74.4,-1.13],[77.1,-1.26],[80.4,-1.64],[82.4,-2.14],[83.7,-2.14],[86.4,-1.47],[89.7,-1.26],[92.4,-.76],[96.4,-.5],[98.4,-.67],[102.7,-1.39],[105.1,-1.13],[111.1,-1.26],[114.7,-1.85],[121.1,-1.89],[123.7,-1.68],[127.1,-1.85],[130.4,-2.22],[135.1,-1.98],[139.1,-1.98],[141.1,-2.27],[144.7,-1.94],[146.4,-2.2],[148,-2.91],[150.4,-3.12],[154.4,-3.29],[157.7,-2.69],[161.7,-1.68],[163.7,-1.39],[166.4,-1.35],[170.3,-.88],[172.4,-.8],[175.4,-.76],[178.1,-.08],[181.6,.46],[183.9,1.1],[186.2,3.3],[189.2,5.6],[191.9,7.07],[194.2,7.16],[196.9,6.82],[199.9,5.05],[202.2,4.12],[206,2.74],[209.1,2.1],[211.8,1.1],[213.7,-.71],[216.4,-2.1],[219,-2.6],[220.6,-1.98],[224.4,-1.35],[226.7,-.76],[229.4,-.51],[232.5,.42],[235.5,.55],[237.8,.76],[240.1,.63],[243.2,-.08],[246.2,-1.01],[248.9,-1.14],[252.7,-2.1],[255,-2.32],[258,-2.86],[261.2,-2.53],[263.4,-1.68],[266.9,-1.26],[269.2,-1.05],[270.3,-.42],[273.4,-.71],[276.4,-1.35],[278.7,-2.02],[279.9,-1.94],[282.5,.76],[285.6,1.5],[288.5,1.6],[290.8,1.47],[292.5,1.26],[295.4,1.05],[297.1,.76],[298.8,.13],[301.1,0],[303.1,-.25],[304.5,-.71],[306.3,-.71],[308.5,-.59],[309.7,-.71],[312.8,-1.05],[314.2,-2.19],[316.8,-4.25],[317.7,-4],[320.2,-3.91],[322.3,-3.45],[324.5,-3.03],[326.2,-2.41],[328.8,-.84],[330.3,-.21],[333.1,.13],[335.4,.63],[337.7,1.18],[339.1,1.81],[340.8,3.41],[342.5,4.46],[344.8,4.75],[346,4.54],[348,3.71],[350.2,3.2],[352.5,2.44],[355.9,1.18],[358.5,-.25],[361,-.25],[362.8,-.42],[365.9,-.21],[368.5,.42],[370.8,.88],[372,1.26],[372.8,1.43],[374,2.22]];
const macdSignal = [[-18.2,-1.31],[-16.5,-1.48],[-14.2,-1.52],[-11.4,-1.14],[-8.5,-.5],[-5.7,.13],[-1.7,.55],[1.8,1.18],[4.1,1.6],[6.9,1.81],[9.8,1.68],[12.6,1.56],[15.5,1.31],[18.9,1.35],[22.3,1.35],[25.5,1.6],[28.1,2.23],[30.3,2.69],[32.9,3],[36.1,2.74],[40.6,2.32],[42.9,1.81],[45.8,1.26],[48.6,1.01],[52.1,.55],[55.5,.13],[58.3,-.04],[61.2,.17],[64.1,.55],[65.7,.93],[69.1,1.18],[72.4,.63],[75.7,-.29],[79.1,-.93],[82.4,-1.47],[85.1,-1.68],[89.7,-1.47],[93.7,-1.05],[98.4,-.8],[103.1,-1.05],[108.4,-1.22],[112.4,-1.35],[116.4,-1.68],[123.7,-1.77],[127.1,-1.81],[131.7,-2.02],[139.1,-2.02],[145.7,-2.06],[149.7,-2.57],[155,-3.03],[159,-2.6],[163.7,-1.98],[170.3,-1.39],[176.2,-1.01],[180.8,-.38],[183.9,.34],[186.9,1.81],[190,4.12],[193,5.6],[196.9,6.23],[199.9,5.89],[204.5,4.46],[207.6,3.37],[211.8,2.24],[215.2,.55],[218.3,-.93],[220.6,-1.43],[223.6,-1.47],[229,-.93],[232,-.38],[235.9,.21],[239.3,.46],[242.8,.13],[248.1,-.59],[252.7,-1.47],[257.3,-2.27],[260.4,-2.48],[264.9,-2.06],[268.8,-1.56],[272.6,-.97],[275.7,-1.05],[279.9,-1.56],[282.5,-.71],[286.8,.42],[289.7,.93],[293.1,1.14],[297.1,1.05],[300,.55],[304,.13],[308,-.42],[312.8,-.76],[316.5,-2.1],[320,-3.16],[323.4,-3.29],[326.2,-2.9],[329.1,-1.98],[332,-1.14],[334.8,-.5],[338.2,.42],[341.1,1.81],[344,3.07],[347.4,3.66],[350.2,3.45],[353.7,2.78],[356.5,2.02],[359.1,1.09],[361.7,.55],[365.7,0],[369.1,.04],[372,.46],[374,.9995]];
const rsiMa = [[-18.2,42.8],[-15.4,41.7],[-12.5,43],[-10,44.8],[-8.2,47.9],[-5.7,50.2],[-2.2,56],[.6,59],[4.1,61.2],[8.6,61.3],[12.6,60],[15.5,58.1],[19.5,56.3],[22.9,56.6],[25.2,59],[28.1,63.2],[31.5,65.5],[34.9,66.5],[39.5,64.2],[42.9,58.9],[46.3,54.7],[48.6,54.3],[52,50.5],[54.3,49.1],[57.2,49.4],[61.8,51.2],[65.7,56],[68.7,58.2],[71.7,56.7],[74.1,53.3],[75.7,49.9],[78.4,45.3],[80.7,41.1],[83.2,38.4],[86.4,40.3],[88.7,42.3],[91,43.3],[94.4,45.6],[97,47.6],[100.4,46.4],[103,44.7],[105.7,43.8],[109,41.8],[113.1,39.5],[117.4,38],[121,35.2],[123.7,34.1],[129.1,33.7],[131.7,32.9],[135.1,33.7],[138.4,33.7],[141.1,32.6],[144.7,34.9],[148,31.8],[151.7,31.4],[155,32.3],[159,33.1],[161.7,37.5],[164.4,40],[167.7,42.1],[171.6,44.4],[174.7,44.4],[177.7,47.2],[181.2,51.5],[183.9,55.3],[186.9,63.3],[190,72],[193,77.1],[196.5,79.9],[199.2,78.3],[202.2,72.5],[205.7,64.8],[209.1,59.5],[211.8,55.6],[215.2,48],[218.7,43.3],[223.3,41.1],[226,41.4],[229.8,47.2],[232.4,51.5],[235.5,52.6],[239.3,54.1],[242.8,53],[245.8,49.5],[248.9,46.7],[252,41.8],[255,39.1],[258,36.9],[261.5,35.7],[265,38],[268.8,40.7],[271.5,45.6],[274.3,46.4],[277.2,44.4],[279.9,42.6],[282.9,46.9],[284.8,48],[286.8,49.9],[289.7,53.3],[292.5,57.9],[294,58.7],[296,57.2],[298.8,53],[302.3,50.3],[305.1,48],[308.8,47.2],[310.8,46],[312.8,45.5],[314.8,42.3],[316.8,39.1],[318.8,39.1],[322.8,36.8],[325.1,36.9],[327.1,38.4],[328.8,42.6],[330.8,47.5],[333.1,49.5],[336,53],[338.2,56.4],[341.1,61.8],[344,65.6],[346.2,68.4],[349.9,68.4],[352.5,66.8],[354.8,61.8],[356.8,56.4],[358.8,51.5],[360.8,49.9],[363.4,47.6],[366.5,46.7],[369.1,48],[372,53],[374,55.88]];

const priceTicks = d3.range(44, 129, 4);
// 96 and 88 sit fully behind the EMA tags, so they get a gridline but no label
const priceLabelTicks = priceTicks.filter(d => d !== 96 && d !== 88);
const macdTicks = [-4, 0, 4, 8];
const rsiTicks = [20, 40, 60, 80];
const monthBars = [0, 21, 41, 61, 83, 105, 124, 146, 168, 188, 211, 231, 252, 272, 291, 312, 333, 354, 374];
const monthLabels = ["2024", "Feb", "Mar", "Apr", "May", "Jun", "Jul", "Aug", "Sep", "Oct", "Nov", "Dec", "2025", "Feb", "Mar", "Apr", "May", "Jun", "Jul"];
const earningsBars = [25, 87, 149, 212, 280, 336];
const earningsUp = [true, true, false, false, true, false];
const dividendBars = [32, 95, 158, 221, 286, 344];

const width = 2446, height = 1351;
const plotLeft = 11, plotRight = 2382, axisLabelX = 2391;
const upColor = "#089981", downColor = "#F23645";

const svg = d3.select("#chart").append("svg").attr("width", width).attr("height", height);
const defs = svg.append("defs");

const bars = d3.range(opens.length).map(k => ({
  i: k + firstBar, o: opens[k], h: highs[k], l: lows[k], c: closes[k],
  v: volumes[k], hist: macdHist[k], prevHist: k ? macdHist[k - 1] : macdHist[k], rsi: rsiValues[k]
}));

const x = d3.scaleLinear().domain([0, 374]).range([116.3, 2298.7]);
const yPrice = d3.scaleLinear().domain([128, 44]).range([71.5, 987.1]);
const yVol = d3.scaleLinear().domain([0, 10]).range([1001, 784]);
const yMacd = d3.scaleLinear().domain([8, -4]).range([1006.7, 1101.7]);
const yRsi = d3.scaleLinear().domain([80, 20]).range([1145, 1275.8]);

const clipPane = (id, top, bottom) => defs.append("clipPath").attr("id", id).append("rect")
  .attr("x", plotLeft).attr("y", top).attr("width", plotRight - plotLeft).attr("height", bottom - top);
clipPane("clipPrice", 28, 1001);
clipPane("clipMacd", 1003, 1112);
clipPane("clipRsi", 1114, 1287);
clipPane("clipOver", 1114, yRsi(70));
clipPane("clipUnder", yRsi(30), 1287);

// frame and pane dividers
svg.append("rect").attr("x", 10).attr("y", 27).attr("width", 2426).attr("height", 1289)
  .attr("fill", "none").attr("stroke", "#f0f3fa").attr("stroke-width", 2);

// month gridlines
svg.append("g").selectAll("line").data(monthBars).join("line")
  .attr("x1", d => x(d)).attr("x2", d => x(d)).attr("y1", 28).attr("y2", 1287)
  .attr("stroke", "#f3f5f9").attr("stroke-width", 1);

function hGrid(ticks, scale) {
  svg.append("g").selectAll("line").data(ticks).join("line")
    .attr("x1", plotLeft).attr("x2", plotRight).attr("y1", d => scale(d)).attr("y2", d => scale(d))
    .attr("stroke", "#f0f3fa").attr("stroke-width", 1.4);
}
hGrid(priceTicks, yPrice);
hGrid(macdTicks.filter(d => d !== 0), yMacd);

// RSI band sits under the grid
svg.append("rect").attr("x", plotLeft).attr("width", plotRight - plotLeft)
  .attr("y", yRsi(70)).attr("height", yRsi(30) - yRsi(70)).attr("fill", "rgba(126,87,194,0.1)");
svg.append("g").selectAll("line").data(rsiTicks).join("line")
  .attr("x1", plotLeft).attr("x2", plotRight).attr("y1", d => yRsi(d)).attr("y2", d => yRsi(d))
  .attr("stroke", "#e9e8f2").attr("stroke-width", 1.4);

[1002, 1113].forEach(y => svg.append("line").attr("x1", 10).attr("x2", 2436).attr("y1", y).attr("y2", y)
  .attr("stroke", "#e0e3eb").attr("stroke-width", 2));

// volume
const priceGroup = svg.append("g").attr("clip-path", "url(#clipPrice)");
priceGroup.append("g").selectAll("rect").data(bars).join("rect")
  .attr("x", d => x(d.i) - 2.3).attr("width", 4.6)
  .attr("y", d => yVol(d.v)).attr("height", d => yVol(0) - yVol(d.v))
  .attr("fill", d => d.c >= d.o ? "rgba(38,166,154,0.5)" : "rgba(239,83,80,0.5)");

// candles
priceGroup.append("g").selectAll("line").data(bars).join("line")
  .attr("x1", d => x(d.i)).attr("x2", d => x(d.i))
  .attr("y1", d => yPrice(d.h)).attr("y2", d => yPrice(d.l))
  .attr("stroke", d => d.c >= d.o ? upColor : downColor).attr("stroke-width", 1.2);
priceGroup.append("g").selectAll("rect").data(bars).join("rect")
  .attr("x", d => x(d.i) - 2.5).attr("width", 5)
  .attr("y", d => yPrice(Math.max(d.o, d.c)))
  .attr("height", d => Math.max(1.2, Math.abs(yPrice(d.o) - yPrice(d.c))))
  .attr("fill", d => d.c >= d.o ? upColor : downColor);

// EMAs
const emaPath = d3.line().x(d => x(d[0])).y(d => yPrice(d[1]));
[[ema200, "#F23645"], [ema50, "#2962FF"], [ema20, "#4CAF50"], [ema5, "#F57C00"]].forEach(([points, color]) => {
  priceGroup.append("path").attr("d", emaPath(points)).attr("fill", "none")
    .attr("stroke", color).attr("stroke-width", 2.6).attr("stroke-opacity", 0.58).attr("stroke-linejoin", "round");
});

// horizontal level and last price
svg.append("line").attr("x1", plotLeft).attr("x2", plotRight).attr("y1", yPrice(110)).attr("y2", yPrice(110))
  .attr("stroke", downColor).attr("stroke-width", 2.2);
svg.append("line").attr("x1", plotLeft).attr("x2", plotRight).attr("y1", yPrice(101.96)).attr("y2", yPrice(101.96))
  .attr("stroke", upColor).attr("stroke-width", 1).attr("stroke-dasharray", "1.5 2.5");

// earnings and dividends markers
const markY = 978;
earningsBars.forEach((b, k) => {
  const cx = x(b), color = earningsUp[k] ? upColor : downColor;
  const shape = earningsUp[k]
    ? `M${cx} ${markY} L${cx + 8.5} ${markY + 6} V${markY + 19} H${cx - 8.5} V${markY + 6} Z`
    : `M${cx - 8.5} ${markY} H${cx + 8.5} V${markY + 14} L${cx} ${markY + 20} L${cx - 8.5} ${markY + 14} Z`;
  svg.append("path").attr("d", shape).attr("fill", "#fff").attr("stroke", color).attr("stroke-width", 1.8);
  svg.append("text").attr("x", cx).attr("y", markY + 14.5).attr("text-anchor", "middle")
    .style("font-size", "12.5px").style("fill", color).text("E");
});
dividendBars.forEach(b => {
  svg.append("circle").attr("cx", x(b)).attr("cy", 988.5).attr("r", 9.6)
    .attr("fill", "#fff").attr("stroke", "#2962FF").attr("stroke-width", 1.8);
  svg.append("text").attr("x", x(b)).attr("y", 993).attr("text-anchor", "middle")
    .style("font-size", "12.5px").style("fill", "#2962FF").text("D");
});

// flash icon on the last bar
const fx = x(374), fy = 988;
svg.append("circle").attr("cx", fx).attr("cy", fy).attr("r", 10).attr("fill", "#fff")
  .attr("stroke", "#9C27B0").attr("stroke-width", 1.6);
svg.append("path").attr("d", `M${fx + 2} ${fy - 6} L${fx - 4} ${fy + 1} H${fx} L${fx - 2} ${fy + 6} L${fx + 4} ${fy - 1} H${fx} Z`).attr("fill", "#9C27B0");
svg.append("circle").attr("cx", fx + 7).attr("cy", fy - 7).attr("r", 2.6).attr("fill", downColor);
svg.append("path").attr("d", `M${fx - 11} ${fy - 1} L${fx - 9.4} ${fy + 2.4} L${fx - 6} ${fy + 4} L${fx - 9.4} ${fy + 5.6} L${fx - 11} ${fy + 9} L${fx - 12.6} ${fy + 5.6} L${fx - 16} ${fy + 4} L${fx - 12.6} ${fy + 2.4} Z`).attr("fill", "#5B3FF0");

// MACD pane
const macdGroup = svg.append("g").attr("clip-path", "url(#clipMacd)");
macdGroup.append("line").attr("x1", plotLeft).attr("x2", plotRight).attr("y1", yMacd(0)).attr("y2", yMacd(0))
  .attr("stroke", "#787B86").attr("stroke-opacity", 0.6).attr("stroke-dasharray", "5 4");
macdGroup.append("g").selectAll("rect").data(bars).join("rect")
  .attr("x", d => x(d.i) - 2.5).attr("width", 5)
  .attr("y", d => Math.min(yMacd(0), yMacd(d.hist)))
  .attr("height", d => Math.abs(yMacd(d.hist) - yMacd(0)))
  .attr("fill", d => d.hist >= 0
    ? (d.hist >= d.prevHist ? "#26A69A" : "#B2DFDB")
    : (d.hist <= d.prevHist ? "#FF5252" : "#FFCDD2"));
const macdPath = d3.line().x(d => x(d[0])).y(d => yMacd(d[1]));
macdGroup.append("path").attr("d", macdPath(macdLine)).attr("fill", "none").attr("stroke", "#2962FF").attr("stroke-width", 1.3);
macdGroup.append("path").attr("d", macdPath(macdSignal)).attr("fill", "none").attr("stroke", "#FF6D00").attr("stroke-width", 1.3);

// RSI pane
const overGrad = defs.append("linearGradient").attr("id", "overGrad").attr("gradientUnits", "userSpaceOnUse")
  .attr("x1", 0).attr("x2", 0).attr("y1", yRsi(87)).attr("y2", yRsi(70));
overGrad.append("stop").attr("offset", 0).attr("stop-color", "#4CAF50").attr("stop-opacity", 0.5);
overGrad.append("stop").attr("offset", 1).attr("stop-color", "#4CAF50").attr("stop-opacity", 0);
const underGrad = defs.append("linearGradient").attr("id", "underGrad").attr("gradientUnits", "userSpaceOnUse")
  .attr("x1", 0).attr("x2", 0).attr("y1", yRsi(30)).attr("y2", yRsi(20));
underGrad.append("stop").attr("offset", 0).attr("stop-color", "#F23645").attr("stop-opacity", 0);
underGrad.append("stop").attr("offset", 1).attr("stop-color", "#F23645").attr("stop-opacity", 0.3);

const rsiGroup = svg.append("g").attr("clip-path", "url(#clipRsi)");
rsiGroup.append("path").attr("clip-path", "url(#clipOver)").attr("fill", "url(#overGrad)")
  .attr("d", d3.area().x(d => x(d.i)).y0(yRsi(70)).y1(d => yRsi(d.rsi))(bars));
rsiGroup.append("path").attr("clip-path", "url(#clipUnder)").attr("fill", "url(#underGrad)")
  .attr("d", d3.area().x(d => x(d.i)).y0(yRsi(30)).y1(d => yRsi(d.rsi))(bars));
[[70, 1], [30, 1], [50, 0.5]].forEach(([level, alpha]) => {
  rsiGroup.append("line").attr("x1", plotLeft).attr("x2", plotRight).attr("y1", yRsi(level)).attr("y2", yRsi(level))
    .attr("stroke", "#787B86").attr("stroke-opacity", alpha).attr("stroke-width", 1.2).attr("stroke-dasharray", "6 4");
});
rsiGroup.append("path").attr("fill", "none").attr("stroke", "#FDE94B").attr("stroke-width", 1.3)
  .attr("d", d3.line().x(d => x(d[0])).y(d => yRsi(d[1]))(rsiMa));
rsiGroup.append("path").attr("fill", "none").attr("stroke", "#7E57C2").attr("stroke-width", 1.3)
  .attr("d", d3.line().x(d => x(d.i)).y(d => yRsi(d.rsi))(bars));

// axes
function valueAxis(scale, ticks, format) {
  const g = svg.append("g").attr("transform", `translate(${axisLabelX},0)`)
    .call(d3.axisRight(scale).tickValues(ticks).tickSize(0).tickPadding(0).tickFormat(format));
  g.select(".domain").remove();
  return g;
}
valueAxis(yPrice, priceLabelTicks, d3.format(".2f"));
// the MACD zero label is a bare 0 pushed to the right of the axis column
const macdAxis = valueAxis(yMacd, macdTicks, d => d === 0 ? "0" : d3.format(".2f")(d));
macdAxis.selectAll("text").filter(d => d === 0).attr("x", 29);
valueAxis(yRsi, rsiTicks, d3.format(".2f"));

const timeAxis = svg.append("g").attr("transform", "translate(0,1295)")
  .call(d3.axisBottom(x).tickValues(monthBars).tickSize(0).tickPadding(0)
    .tickFormat((d, k) => monthLabels[k]));
timeAxis.select(".domain").remove();
timeAxis.selectAll("text").attr("dy", "0.72em")
  .style("font-size", "13px").style("font-weight", (d, k) => monthLabels[k].length === 4 ? 500 : 400);

// value tags on the right
function tag(y, label, color, tagWidth, textColor) {
  svg.append("rect").attr("x", 2383).attr("y", y - 8.5).attr("width", tagWidth).attr("height", 17)
    .attr("rx", 1.5).attr("fill", color);
  svg.append("text").attr("x", axisLabelX).attr("y", y + 4.4)
    .style("font-size", "12.5px").style("font-weight", 500).style("fill", textColor || "#fff").text(label);
}
tag(yPrice(110), "110.00", downColor, 48.7);
tag(yPrice(101.96), "101.96", upColor, 48.7);
tag(yPrice(95.77), "95.77", "#F57C00", 43);
tag(yPrice(90.92), "90.92", "#4CAF50", 43);
tag(yPrice(88.37), "88.37", "#2962FF", 43);
tag(yPrice(88.37) + 17, "87.38", downColor, 43);
tag(yVol(5.34), "5.34M", "#26A69A", 47);
tag(yMacd(1.22) - 17, "2.22", "#2962FF", 37);
tag(yMacd(1.22), "1.22", "#26A69A", 37);
tag(yMacd(1.22) + 17, "0.9995", "#FF6D00", 48.7);
tag(yRsi(73.87), "73.87", "#7E57C2", 43);
tag(yRsi(55.88), "55.88", "#FFEB3B", 43, "#131722");

// currency box
svg.append("rect").attr("x", 2386).attr("y", 31.5).attr("width", 46).attr("height", 25.5).attr("rx", 4)
  .attr("fill", "#fff").attr("stroke", "#f0f3fa").attr("stroke-width", 1.5);
svg.append("text").attr("x", 2395.5).attr("y", 49).style("font-size", "12px").text("USD");

// legends
function legendText(px, py, label, color, size) {
  svg.append("text").attr("x", px).attr("y", py).style("font-size", (size || 12) + "px")
    .style("fill", color || "#131722").text(label);
}
legendText(10, 19, "tkj1101 created with TradingView.com, Jul 02, 2025 10:07 UTC+8", "#131722", 12.2);

legendText(18, 46, "Wynn Resorts, Limited · 1D · NASDAQ", "#131722", 11.6);
legendText(225.4, 46, "O"); legendText(233.5, 46, "96.86", upColor);
legendText(270.5, 46, "H"); legendText(278.8, 46, "102.48", upColor);
legendText(321.5, 46, "L"); legendText(327.5, 46, "96.86", upColor);
legendText(363.8, 46, "C"); legendText(371.7, 46, "101.96", upColor);
legendText(414.4, 46, "+8.29 (+8.85%)", upColor);

legendText(18, 63, "Vol");
legendText(41.5, 63, "5.34M", "#26A69A");

legendText(18, 80, "4 EMAs (5, 20, 50, 200)");
legendText(149, 80, "95.77", "#F57C00");
legendText(185.8, 80, "90.92", "#4CAF50");
legendText(222.6, 80, "88.37", "#2962FF");
legendText(259.4, 80, "87.38", downColor);

legendText(18, 1021, "MACD (12, 26, close, 9, EMA, EMA)");
legendText(211, 1021, "1.22", "#26A69A");
legendText(241, 1021, "2.22", "#2962FF");
legendText(271.7, 1021, "0.9995", "#FF6D00");

legendText(18, 1133.5, "RSI (14, close, SMA, 14, 2)");
legendText(166, 1133.5, "73.87", "#7E57C2");
legendText(202.7, 1133.5, "55.88", "#FFEB3B");
legendText(240.7, 1133.5, "∅", "#131722");
legendText(255.3, 1133.5, "∅", "#131722");

// TradingView mark
const logo = svg.append("g").attr("fill", "#131722");
logo.append("path").attr("d", "M10 1328h9.5v10h-4.8v-5.5H10z");
logo.append("circle").attr("cx", 22.3).attr("cy", 1330.4).attr("r", 2.4);
logo.append("path").attr("d", "M29.7 1328L25 1338h-5.6l4.7-10z");
legendText(33, 1338, "TradingView", "#131722", 14);
</script>
</body>
</html>
